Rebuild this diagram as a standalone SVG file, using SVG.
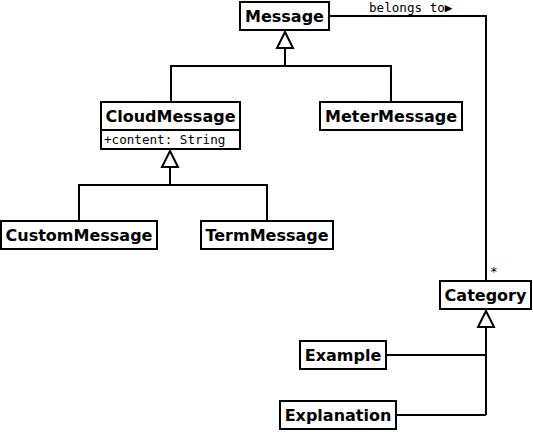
<svg xmlns="http://www.w3.org/2000/svg" width="533" height="432" viewBox="0 0 533 432">
<style>
.box{fill:#fff;stroke:#000;stroke-width:2}
.name{font-family:"DejaVu Sans",sans-serif;font-weight:bold;font-size:16px;text-anchor:middle}
.mono{font-family:"DejaVu Sans Mono",monospace;font-size:12.6px}
.ln{fill:none;stroke:#000;stroke-width:2}
.tri{fill:#fff;stroke:#000;stroke-width:2}
</style>
<rect width="533" height="432" fill="#fff"/>
<g id="connectors">
<path class="ln" d="M285,48 V66 M171,102 V66 H391 V102"/>
<polygon class="tri" points="285,32 277,48 293,48"/>
<path class="ln" d="M170,167 V185 M79,221 V185 H267 V221"/>
<polygon class="tri" points="170,151 162,167 178,167"/>
<path class="ln" d="M486,327 V415 M386,355 H486 M396,415 H486"/>
<polygon class="tri" points="486,311 478,327 494,327"/>
<path class="ln" d="M329,16 H486 V281"/>
<text class="mono" x="369" y="12">belongs to▶</text>
<text class="mono" x="490" y="276">*</text>
</g>
<g id="Message"><rect class="box" x="240" y="2" width="89" height="28"/><text class="name" x="284.5" y="21.5">Message</text></g>
<g id="CloudMessage"><rect class="box" x="101" y="102" width="139" height="28"/><rect class="box" x="101" y="130" width="139" height="19"/><text class="name" x="170.5" y="121.5">CloudMessage</text><text class="mono" x="104" y="144">+content: String</text></g>
<g id="MeterMessage"><rect class="box" x="320" y="102" width="142" height="28"/><text class="name" x="391" y="121.5">MeterMessage</text></g>
<g id="CustomMessage"><rect class="box" x="1" y="221" width="156" height="28"/><text class="name" x="79" y="240.5">CustomMessage</text></g>
<g id="TermMessage"><rect class="box" x="201" y="221" width="132" height="28"/><text class="name" x="267" y="240.5">TermMessage</text></g>
<g id="Category"><rect class="box" x="440" y="281" width="91" height="28"/><text class="name" x="485.5" y="300.5">Category</text></g>
<g id="Example"><rect class="box" x="300" y="341" width="86" height="28"/><text class="name" x="343" y="360.5">Example</text></g>
<g id="Explanation"><rect class="box" x="280" y="401" width="116" height="28"/><text class="name" x="338" y="420.5">Explanation</text></g>
</svg>
